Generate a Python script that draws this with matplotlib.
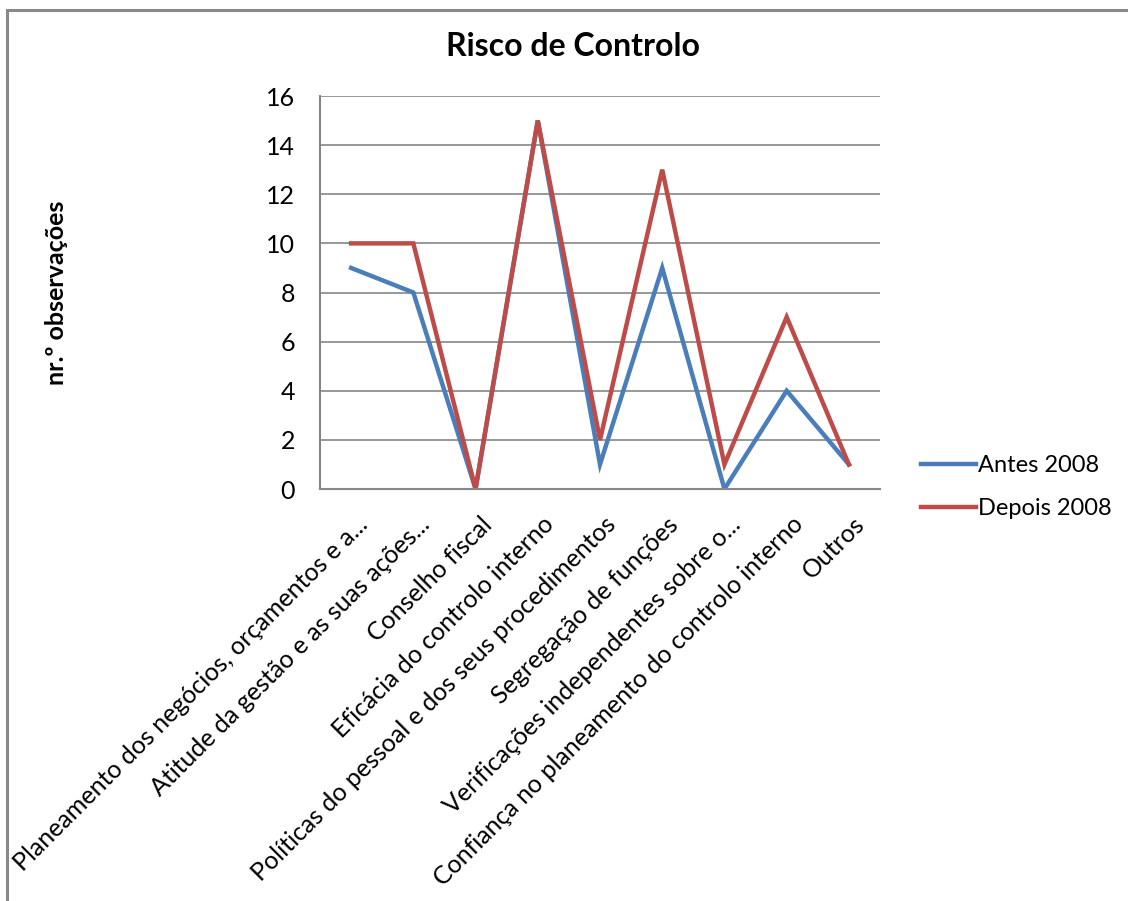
import numpy as np
import matplotlib.pyplot as plt
from matplotlib.patches import Rectangle

plt.rcParams['font.family'] = ['Lato', 'DejaVu Sans']

categorias = [
    "Planeamento dos negócios, orçamentos e a...",
    "Atitude da gestão e as suas ações...",
    "Conselho fiscal",
    "Eficácia do controlo interno",
    "Políticas do pessoal e dos seus procedimentos",
    "Segregação de funções",
    "Verificações independentes sobre o...",
    "Confiança no planeamento do controlo interno",
    "Outros",
]
antes_2008 = [9, 8, 0, 15, 1, 9, 0, 4, 1]
depois_2008 = [10, 10, 0, 15, 2, 13, 1, 7, 1]
y_ticks = [0, 2, 4, 6, 8, 10, 12, 14, 16]

azul = '#4A7EBB'
vermelho = '#BE4B48'
cinza = '#868686'

fig = plt.figure(figsize=(11.28, 9.01), dpi=100)
ax = fig.add_axes([320 / 1128, 1 - 489 / 901, 560 / 1128, 393 / 901])

x = np.arange(len(categorias))
ax.plot(x, antes_2008, color=azul, lw=3.2, label='Antes 2008', solid_joinstyle='miter')
ax.plot(x, depois_2008, color=vermelho, lw=3.2, label='Depois 2008', solid_joinstyle='miter')

ax.set_xlim(-0.5, len(categorias) - 0.5)
ax.set_ylim(0, 16)
ax.set_yticks(y_ticks)
ax.set_yticklabels([str(v) for v in y_ticks], fontsize=18)
ax.tick_params(axis='y', length=0, pad=18)
ax.set_xticks([])
ax.grid(axis='y', color=cinza, lw=1.2)
ax.set_axisbelow(True)
for lado in ['top', 'right']:
    ax.spines[lado].set_visible(False)
ax.spines['left'].set_color(cinza)
ax.spines['bottom'].set_color(cinza)
ax.spines['left'].set_linewidth(1.5)
ax.spines['bottom'].set_linewidth(1.5)

# rótulos das categorias a 45 graus
for i, nome in enumerate(categorias):
    ax.annotate(nome, xy=(i, 0), xycoords=('data', 'axes fraction'),
                xytext=(3, -17), textcoords='offset points',
                rotation=45, rotation_mode='anchor', ha='right', va='top',
                fontsize=18, color='black')

ax.set_ylabel('nr.º observações', fontsize=18, fontweight='bold')
ax.yaxis.set_label_coords((68 - 320) / 560, 0.5)
fig.text(573 / 1128, 1 - 47 / 901, 'Risco de Controlo', ha='center', va='center',
         fontsize=23, fontweight='bold')

ax.legend(loc='center left', bbox_to_anchor=(900 / 1128, 1 - 487 / 901),
          bbox_transform=fig.transFigure, frameon=False, fontsize=17,
          handlelength=2.3, handletextpad=0.1, labelspacing=0.95)

# moldura do gráfico
fig.patches.append(Rectangle((7 / 1128, -0.1), 1.2, (1 - 10 / 901) + 0.1,
                             transform=fig.transFigure, fill=False,
                             edgecolor='#888888', lw=2.2, zorder=10))

fig.savefig('out.png', dpi=100)
